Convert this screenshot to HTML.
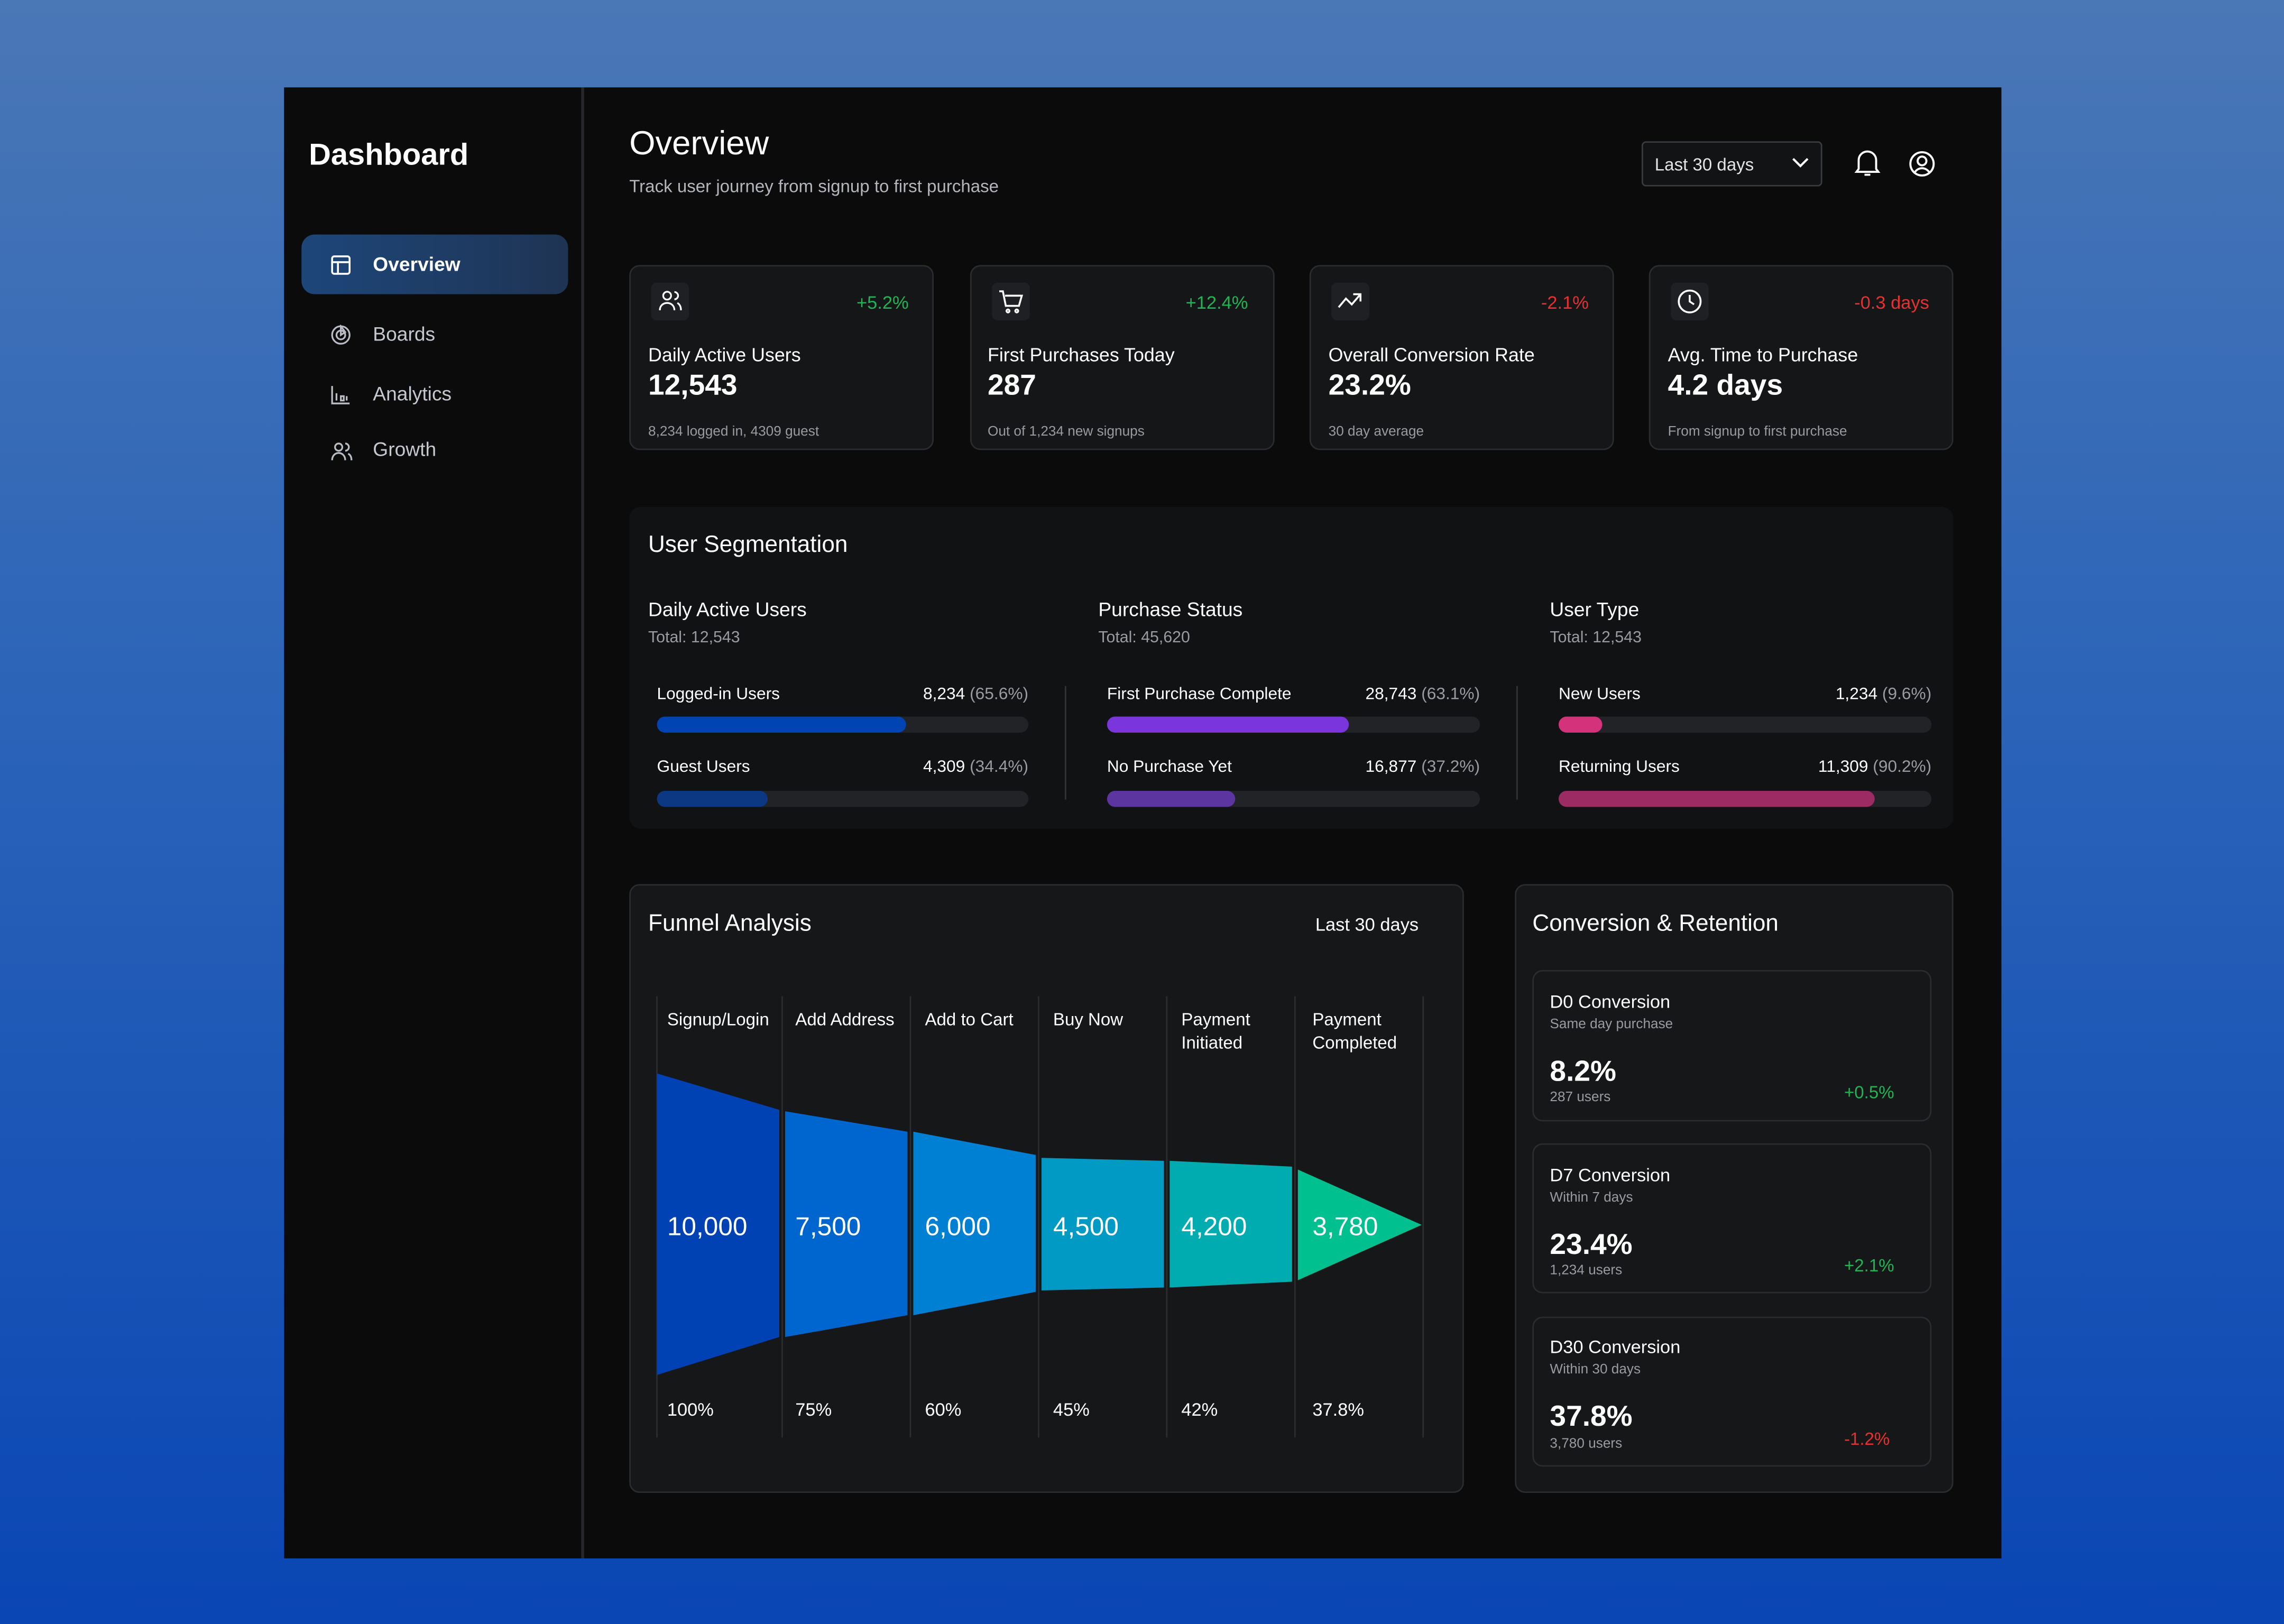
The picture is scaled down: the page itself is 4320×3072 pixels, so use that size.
<!DOCTYPE html>
<html><head><meta charset="utf-8">
<style>
*{margin:0;padding:0;box-sizing:border-box}
html,body{width:4320px;height:3072px;overflow:hidden}
body{background:linear-gradient(180deg,#4a77b6 0%,#2a63b8 45%,#0a46b4 100%);font-family:"Liberation Sans",sans-serif;color:#fff}
#s{position:absolute;left:0;top:0;width:1568px;height:1115px;transform:scale(2.7551);transform-origin:0 0}
.a{position:absolute;white-space:nowrap}
.panel{position:absolute;left:195px;top:60px;width:1179px;height:1010px;background:#0b0b0c}
.card{position:absolute;background:#151618;border:1px solid #2b2c2f;border-radius:7px}
.ib{position:absolute;width:26px;height:26px;border-radius:4px;background:#1f2023}
.g{color:#1fb454}.r{color:#e5312f}
.mut{color:#9a9ba0}
.bar{position:absolute;height:11px;border-radius:6px;background:#222326}
.bar i{position:absolute;left:0;top:0;height:11px;border-radius:6px}
</style></head><body>
<div id="s">
<div class="panel"></div>
<div class="a" style="left:399px;top:60px;width:2px;height:1010px;background:#26272a"></div>
<div class="a" style="left:212px;top:95px;font-size:21px;font-weight:bold">Dashboard</div>
<div class="a" style="left:207px;top:161px;width:183px;height:41px;border-radius:9px;background:linear-gradient(90deg,#1d4679,#1f3454)"></div>
<svg class="a" style="left:227px;top:175px" width="14" height="14" viewBox="0 0 14 14" fill="none" stroke="#fff" stroke-width="1.3"><rect x="1" y="1" width="12" height="12" rx="1.5"/><path d="M1 5h12M5 5v8"/></svg>
<div class="a" style="left:256px;top:174px;font-size:13.5px;font-weight:bold">Overview</div>
<svg class="a" style="left:227px;top:223px" width="14" height="14" viewBox="0 0 14 14" fill="none" stroke="#b8bcc4" stroke-width="1.2"><circle cx="7" cy="7" r="6"/><circle cx="7" cy="7" r="3"/><path d="M7 1v6l3-2z"/></svg>
<div class="a" style="left:256px;top:222px;font-size:13.5px;color:#c4c8cf">Boards</div>
<svg class="a" style="left:227px;top:264px" width="14" height="14" viewBox="0 0 14 14" fill="none" stroke="#b8bcc4" stroke-width="1.2"><path d="M1 1v12h12M4 6v5M7 8v3h2V8zM11 8v3"/></svg>
<div class="a" style="left:256px;top:263px;font-size:13.5px;color:#c4c8cf">Analytics</div>
<svg class="a" style="left:227px;top:303px" width="15" height="14" viewBox="0 0 15 14" fill="none" stroke="#b8bcc4" stroke-width="1.2"><circle cx="5.5" cy="4" r="2.5"/><path d="M1 13c0-3 2-5 4.5-5s4.5 2 4.5 5M10 1.5a2.5 2.5 0 010 5M12 8.5c1.5.7 2.3 2.3 2.3 4.5"/></svg>
<div class="a" style="left:256px;top:301px;font-size:13.5px;color:#c4c8cf">Growth</div>

<div class="a" style="left:432px;top:85px;font-size:23px">Overview</div>
<div class="a" style="left:432px;top:121px;font-size:12px;color:#b4b6bb">Track user journey from signup to first purchase</div>
<div class="a" style="left:1127px;top:97px;width:124px;height:31px;border:1px solid #3a3b3f;border-radius:3px;background:#121315"></div>
<div class="a" style="left:1136px;top:106px;font-size:12px;color:#e4e4e6">Last 30 days</div>
<svg class="a" style="left:1230px;top:108px" width="12" height="8" viewBox="0 0 12 8" fill="none" stroke="#fff" stroke-width="1.5"><path d="M1 1l5 5 5-5"/></svg>
<svg class="a" style="left:1273px;top:102px" width="18" height="20" viewBox="0 0 18 20" fill="none" stroke="#fff" stroke-width="1.4"><path d="M3 14V8a6 6 0 0112 0v6l1.5 2h-15zM7 18h4"/></svg>
<svg class="a" style="left:1310px;top:103px" width="19" height="19" viewBox="0 0 19 19" fill="none" stroke="#fff" stroke-width="1.4"><circle cx="9.5" cy="9.5" r="8"/><circle cx="9.5" cy="7.5" r="3"/><path d="M4.3 15.5c1.5-2 3-3 5.2-3s3.7 1 5.2 3"/></svg>

<!-- KPI cards -->
<div class="card" style="left:432px;top:182px;width:209px;height:127px"></div>
<div class="card" style="left:666px;top:182px;width:209px;height:127px"></div>
<div class="card" style="left:899px;top:182px;width:209px;height:127px"></div>
<div class="card" style="left:1132px;top:182px;width:209px;height:127px"></div>
<div class="ib" style="left:447px;top:194px"></div><div class="ib" style="left:681px;top:194px"></div><div class="ib" style="left:914px;top:194px"></div><div class="ib" style="left:1147px;top:194px"></div>
<svg class="a" style="left:452px;top:199px" width="17" height="16" viewBox="0 0 17 16" fill="none" stroke="#fff" stroke-width="1.2"><circle cx="6" cy="4" r="2.7"/><path d="M1 14c0-3 2.2-5 5-5s5 2 5 5M11 1.5a2.5 2.5 0 010 5M13 9c1.5.8 2.5 2.5 2.5 5"/></svg>
<svg class="a" style="left:685px;top:199px" width="18" height="17" viewBox="0 0 18 17" fill="none" stroke="#fff" stroke-width="1.3"><path d="M1 1h2.5l2 10h9l2-7H5"/><circle cx="7" cy="14.5" r="1"/><circle cx="13" cy="14.5" r="1"/></svg>
<svg class="a" style="left:918px;top:200px" width="18" height="14" viewBox="0 0 18 14" fill="none" stroke="#fff" stroke-width="1.3"><path d="M1 11l5-6 4 4 6-7M11 2h5v5"/></svg>
<svg class="a" style="left:1151px;top:198px" width="18" height="18" viewBox="0 0 18 18" fill="none" stroke="#fff" stroke-width="1.3"><circle cx="9" cy="9" r="7.5"/><path d="M9 4.5V9l3 2"/></svg>
<div class="a g" style="left:588px;top:201px;font-size:12.5px">+5.2%</div>
<div class="a g" style="left:814px;top:201px;font-size:12.5px">+12.4%</div>
<div class="a r" style="left:1058px;top:201px;font-size:12.5px">-2.1%</div>
<div class="a r" style="left:1273px;top:201px;font-size:12.5px">-0.3 days</div>
<div class="a" style="left:445px;top:236px;font-size:13px">Daily Active Users</div>
<div class="a" style="left:678px;top:236px;font-size:13px">First Purchases Today</div>
<div class="a" style="left:912px;top:236px;font-size:13px">Overall Conversion Rate</div>
<div class="a" style="left:1145px;top:236px;font-size:13px">Avg. Time to Purchase</div>
<div class="a" style="left:445px;top:254px;font-size:20px;font-weight:bold">12,543</div>
<div class="a" style="left:678px;top:254px;font-size:20px;font-weight:bold">287</div>
<div class="a" style="left:912px;top:254px;font-size:20px;font-weight:bold">23.2%</div>
<div class="a" style="left:1145px;top:254px;font-size:20px;font-weight:bold">4.2 days</div>
<div class="a mut" style="left:445px;top:291px;font-size:9.5px">8,234 logged in, 4309 guest</div>
<div class="a mut" style="left:678px;top:291px;font-size:9.5px">Out of 1,234 new signups</div>
<div class="a mut" style="left:912px;top:291px;font-size:9.5px">30 day average</div>
<div class="a mut" style="left:1145px;top:291px;font-size:9.5px">From signup to first purchase</div>

<!-- Segmentation -->
<div class="a" style="left:432px;top:348px;width:909px;height:221px;background:#111214;border-radius:8px"></div>
<div class="a" style="left:445px;top:366px;font-size:16px">User Segmentation</div>
<div class="a" style="left:445px;top:411px;font-size:13.5px">Daily Active Users</div>
<div class="a mut" style="left:445px;top:432px;font-size:11px">Total: 12,543</div>
<div class="a" style="left:754px;top:411px;font-size:13.5px">Purchase Status</div>
<div class="a mut" style="left:754px;top:432px;font-size:11px">Total: 45,620</div>
<div class="a" style="left:1064px;top:411px;font-size:13.5px">User Type</div>
<div class="a mut" style="left:1064px;top:432px;font-size:11px">Total: 12,543</div>
<div class="a" style="left:731px;top:471px;width:1px;height:78px;background:#333438"></div>
<div class="a" style="left:1041px;top:471px;width:1px;height:78px;background:#333438"></div>

<div class="a" style="left:451px;top:471px;font-size:11.5px">Logged-in Users</div>
<div class="a" style="left:606px;top:471px;width:100px;text-align:right;font-size:11.5px">8,234 <span class="mut">(65.6%)</span></div>
<div class="bar" style="left:451px;top:492px;width:255px"><i style="width:171px;background:#0043b3"></i></div>
<div class="a" style="left:451px;top:521px;font-size:11.5px">Guest Users</div>
<div class="a" style="left:606px;top:521px;width:100px;text-align:right;font-size:11.5px">4,309 <span class="mut">(34.4%)</span></div>
<div class="bar" style="left:451px;top:543px;width:255px"><i style="width:76px;background:#0b3783"></i></div>

<div class="a" style="left:760px;top:471px;font-size:11.5px">First Purchase Complete</div>
<div class="a" style="left:876px;top:471px;width:140px;text-align:right;font-size:11.5px">28,743 <span class="mut">(63.1%)</span></div>
<div class="bar" style="left:760px;top:492px;width:256px"><i style="width:166px;background:#7a35dc"></i></div>
<div class="a" style="left:760px;top:521px;font-size:11.5px">No Purchase Yet</div>
<div class="a" style="left:876px;top:521px;width:140px;text-align:right;font-size:11.5px">16,877 <span class="mut">(37.2%)</span></div>
<div class="bar" style="left:760px;top:543px;width:256px"><i style="width:88px;background:#5c35a0"></i></div>

<div class="a" style="left:1070px;top:471px;font-size:11.5px">New Users</div>
<div class="a" style="left:1186px;top:471px;width:140px;text-align:right;font-size:11.5px">1,234 <span class="mut">(9.6%)</span></div>
<div class="bar" style="left:1070px;top:492px;width:256px"><i style="width:30px;background:#d4327a"></i></div>
<div class="a" style="left:1070px;top:521px;font-size:11.5px">Returning Users</div>
<div class="a" style="left:1186px;top:521px;width:140px;text-align:right;font-size:11.5px">11,309 <span class="mut">(90.2%)</span></div>
<div class="bar" style="left:1070px;top:543px;width:256px"><i style="width:217px;background:#9c2a63"></i></div>

<!-- Funnel -->
<div class="card" style="left:432px;top:607px;width:573px;height:418px;background:#161719"></div>
<div class="a" style="left:445px;top:626px;font-size:16px">Funnel Analysis</div>
<div class="a" style="left:903px;top:628px;font-size:12.5px">Last 30 days</div>
<svg class="a" style="left:432px;top:607px" width="573" height="418" viewBox="432 607 573 418">
<g stroke="#2c2d31" stroke-width="1">
<line x1="451" y1="684" x2="451" y2="987"/><line x1="537" y1="684" x2="537" y2="987"/><line x1="625" y1="684" x2="625" y2="987"/><line x1="713" y1="684" x2="713" y2="987"/><line x1="801" y1="684" x2="801" y2="987"/><line x1="889" y1="684" x2="889" y2="987"/><line x1="977" y1="684" x2="977" y2="987"/>
</g>
<polygon points="451,737 535,762 535,918 451,944" fill="#0041b4"/>
<polygon points="539,763 623,777 623,903 539,918" fill="#0066cf"/>
<polygon points="627,777 711,793 711,887 627,903" fill="#0080d3"/>
<polygon points="715,795 799,797 799,884 715,886" fill="#009ac4"/>
<polygon points="803,797 887,801 887,880 803,884" fill="#00acb0"/>
<polygon points="891,803 976,841 891,879" fill="#00c08f"/>
<g fill="#fff" font-family="Liberation Sans, sans-serif">
<g font-size="12">
<text x="458" y="704">Signup/Login</text><text x="546" y="704">Add Address</text><text x="635" y="704">Add to Cart</text><text x="723" y="704">Buy Now</text><text x="811" y="704">Payment</text><text x="811" y="720">Initiated</text><text x="901" y="704">Payment</text><text x="901" y="720">Completed</text>
</g>
<g font-size="18">
<text x="458" y="848">10,000</text><text x="546" y="848">7,500</text><text x="635" y="848">6,000</text><text x="723" y="848">4,500</text><text x="811" y="848">4,200</text><text x="901" y="848">3,780</text>
</g>
<g font-size="12.5">
<text x="458" y="972">100%</text><text x="546" y="972">75%</text><text x="635" y="972">60%</text><text x="723" y="972">45%</text><text x="811" y="972">42%</text><text x="901" y="972">37.8%</text>
</g></g>
</svg>

<!-- Conversion -->
<div class="card" style="left:1040px;top:607px;width:301px;height:418px;background:#161719"></div>
<div class="a" style="left:1052px;top:626px;font-size:16px">Conversion &amp; Retention</div>
<div class="card" style="left:1052px;top:666px;width:274px;height:104px;background:#161719"></div>
<div class="card" style="left:1052px;top:785px;width:274px;height:103px;background:#161719"></div>
<div class="card" style="left:1052px;top:904px;width:274px;height:103px;background:#161719"></div>
<div class="a" style="left:1064px;top:681px;font-size:12.5px">D0 Conversion</div>
<div class="a mut" style="left:1064px;top:698px;font-size:9.5px">Same day purchase</div>
<div class="a" style="left:1064px;top:725px;font-size:20px;font-weight:bold">8.2%</div>
<div class="a mut" style="left:1064px;top:748px;font-size:9.5px">287 users</div>
<div class="a g" style="left:1266px;top:743px;font-size:12px">+0.5%</div>
<div class="a" style="left:1064px;top:800px;font-size:12.5px">D7 Conversion</div>
<div class="a mut" style="left:1064px;top:817px;font-size:9.5px">Within 7 days</div>
<div class="a" style="left:1064px;top:844px;font-size:20px;font-weight:bold">23.4%</div>
<div class="a mut" style="left:1064px;top:867px;font-size:9.5px">1,234 users</div>
<div class="a g" style="left:1266px;top:862px;font-size:12px">+2.1%</div>
<div class="a" style="left:1064px;top:918px;font-size:12.5px">D30 Conversion</div>
<div class="a mut" style="left:1064px;top:935px;font-size:9.5px">Within 30 days</div>
<div class="a" style="left:1064px;top:962px;font-size:20px;font-weight:bold">37.8%</div>
<div class="a mut" style="left:1064px;top:986px;font-size:9.5px">3,780 users</div>
<div class="a r" style="left:1266px;top:981px;font-size:12px">-1.2%</div>
</div>
</body></html>
